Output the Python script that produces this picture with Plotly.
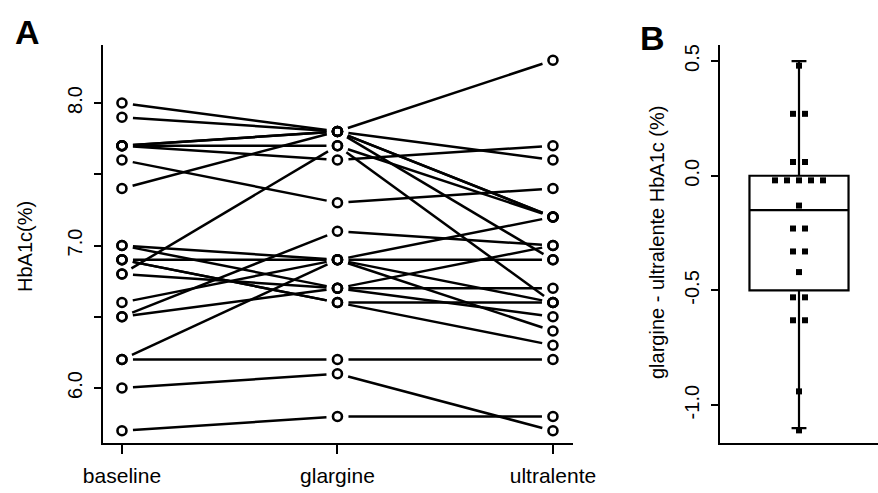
import math
import plotly.graph_objects as go
from collections import Counter

W, H = 878, 493
FONT = "Liberation Sans, Arial, Helvetica, sans-serif"

# ---- Panel A data (HbA1c %, one entry per subject) ----
periods = ["baseline", "glargine", "ultralente"]
baseline   = [8.0, 7.9, 7.7, 7.7, 7.7, 7.7, 7.6, 7.4, 7.0, 7.0, 6.9,
              6.9, 6.8, 6.8, 6.6, 6.5, 6.5, 6.2, 6.2, 6.0, 5.7, 6.9]
glargine   = [7.8, 7.8, 7.8, 7.8, 7.7, 7.6, 7.3, 7.8, 6.9, 6.7, 6.9,
              6.6, 7.7, 6.7, 6.9, 7.1, 6.7, 6.2, 6.9, 6.1, 5.8, 6.6]
ultralente = [7.2, 8.3, 7.6, 6.9, 7.2, 7.7, 7.4, 7.2, 7.2, 6.7, 6.4,
              6.6, 6.6, 6.5, 6.6, 7.0, 7.0, 6.2, 6.9, 5.7, 5.8, 6.3]
a_tickvals = [6.0, 6.5, 7.0, 7.5, 8.0]
a_ticktext = ["6.0", "", "7.0", "", "8.0"]

# ---- Panel B data (difference, as plotted) ----
diff_points = [0.48, 0.27, 0.27, 0.06, 0.06, -0.02, -0.02, -0.02, -0.02, -0.02,
               -0.13, -0.23, -0.23, -0.33, -0.33, -0.42, -0.53, -0.53,
               -0.63, -0.63, -0.94, -1.11]
box_q1, box_median, box_q3 = -0.5, -0.15, 0.0
box_lower, box_upper = -1.1, 0.5
b_tickvals = [0.5, 0.0, -0.5, -1.0]
b_ticktext = ["0.5", "0.0", "-0.5", "-1.0"]

# ---- layout geometry (pixels) ----
AX_L, AX_R = 103, 573          # panel A plot area
BX_L = 720                     # panel B plot area left
Y_TOP, Y_BOT = 45, 443
XR = [0.912, 3.093]
YR = [5.614, 8.407]
YR2 = [-1.165, 0.57]

# pixel scale, used to leave a gap between segments and symbols (type="b")
sx = (AX_R - AX_L) / (XR[1] - XR[0])
sy = (Y_BOT - Y_TOP) / (YR[1] - YR[0])
GAP = 11.0

fig = go.Figure()

xcat = [1, 2, 3]
seg_x, seg_y = [], []
for b, g, u in zip(baseline, glargine, ultralente):
    vals = [b, g, u]
    for i in range(2):
        x1, y1, x2, y2 = xcat[i], vals[i], xcat[i + 1], vals[i + 1]
        dxp, dyp = (x2 - x1) * sx, (y2 - y1) * sy
        L = math.hypot(dxp, dyp)
        ux, uy = dxp / L, dyp / L
        seg_x += [x1 + GAP * ux / sx, x2 - GAP * ux / sx, None]
        seg_y += [y1 + GAP * uy / sy, y2 - GAP * uy / sy, None]
fig.add_trace(go.Scatter(x=seg_x, y=seg_y, mode="lines",
                         line=dict(color="black", width=2.5),
                         showlegend=False, hoverinfo="skip"))

n = len(baseline)
allx = [1] * n + [2] * n + [3] * n
ally = baseline + glargine + ultralente
fig.add_trace(go.Scatter(x=allx, y=ally, mode="markers",
                         marker=dict(symbol="circle-open", size=9, color="black",
                                     line=dict(width=2.6, color="black")),
                         showlegend=False, hoverinfo="skip"))

# Panel B: box
fig.add_trace(go.Box(x=[0.5], q1=[box_q1], median=[box_median], q3=[box_q3],
                     lowerfence=[box_lower], upperfence=[box_upper],
                     width=0.627, whiskerwidth=0.15, fillcolor="white",
                     line=dict(color="black", width=2.2), boxpoints=False,
                     xaxis="x2", yaxis="y2", showlegend=False, hoverinfo="skip"))

# tied points spread sideways
counts = Counter(diff_points)
seen = Counter()
px_x = []
step = 0.076
for v in diff_points:
    k = counts[v]
    i = seen[v]
    seen[v] += 1
    px_x.append(0.5 + (i - (k - 1) / 2) * step)
fig.add_trace(go.Scatter(x=px_x, y=diff_points, mode="markers",
                         marker=dict(symbol="square", size=6, color="black"),
                         xaxis="x2", yaxis="y2", showlegend=False, hoverinfo="skip"))

ydom = [1 - Y_BOT / H, 1 - Y_TOP / H]
common = dict(showline=True, linecolor="black", linewidth=2, showgrid=False,
              zeroline=False, automargin=False)
ann = dict(xref="paper", yref="paper", showarrow=False,
           xanchor="center", yanchor="middle")
fig.update_layout(
    width=W, height=H, margin=dict(l=0, r=0, t=0, b=0, pad=0, autoexpand=False),
    paper_bgcolor="white", plot_bgcolor="white",
    font=dict(family=FONT, size=20, color="black"),
    hovermode=False,
    xaxis=dict(domain=[AX_L / W, AX_R / W], range=XR,
               tickvals=xcat, ticktext=periods, ticks="outside", ticklen=9,
               tickwidth=2, tickcolor="black", ticklabelstandoff=4,
               tickfont=dict(size=21), **common),
    yaxis=dict(domain=ydom, range=YR, tickvals=a_tickvals,
               ticktext=a_ticktext, tickangle=-90, ticks="outside", ticklen=7,
               tickwidth=2, tickcolor="black", ticklabelstandoff=4,
               tickfont=dict(size=20), **common),
    xaxis2=dict(domain=[BX_L / W, 1.0], range=[0, 1], anchor="y2",
                showticklabels=False, ticks="", **common),
    yaxis2=dict(domain=ydom, range=YR2, anchor="x2", tickvals=b_tickvals,
                ticktext=b_ticktext, tickangle=-90, ticks="outside", ticklen=7,
                tickwidth=2, tickcolor="black", ticklabelstandoff=4,
                tickfont=dict(size=20), **common),
    annotations=[
        dict(text="<b>A</b>", x=27 / W, y=1 - 32 / H,
             font=dict(size=34, family=FONT), **ann),
        dict(text="<b>B</b>", x=652 / W, y=1 - 38 / H,
             font=dict(size=34, family=FONT), **ann),
        dict(text="HbA1c(%)", x=25 / W, y=1 - 247 / H, textangle=-90,
             font=dict(size=20, family=FONT), **ann),
        dict(text="glargine - ultralente HbA1c (%)", x=657 / W, y=1 - 243 / H,
             textangle=-90, font=dict(size=20, family=FONT), **ann),
    ],
)

fig.write_html("out.html",
               config={"displayModeBar": False, "staticPlot": True},
               post_script="document.body.style.margin='0px';"
                           "document.body.style.overflow='hidden';")
